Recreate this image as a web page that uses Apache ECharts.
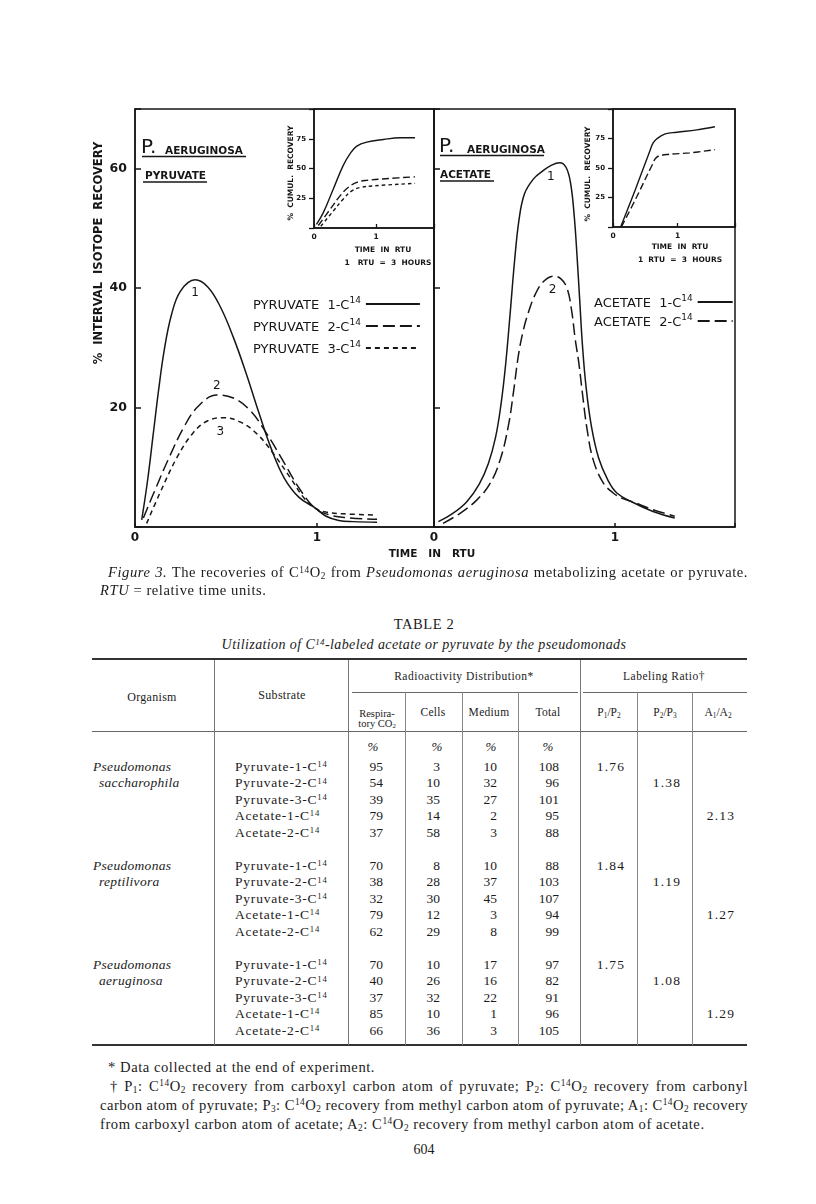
<!DOCTYPE html>
<html>
<head>
<meta charset="utf-8">
<script src="https://cdn.jsdelivr.net/npm/echarts@6.0.0/dist/echarts.min.js"></script>
<style>
html,body{margin:0;padding:0;background:#fff;}
body{width:816px;height:1204px;position:relative;overflow:hidden;color:#1b1b1b;font-family:"Liberation Serif","Times New Roman",serif;}
#chart{position:absolute;left:0;top:0;width:816px;height:570px;}
.t{position:absolute;white-space:nowrap;}
.sup{font-size:0.64em;position:relative;top:-0.45em;line-height:0;}
.sub{font-size:0.64em;position:relative;top:0.22em;line-height:0;}
.ln{position:absolute;background:#555;}
</style>
</head>
<body>
<div id="chart"></div>
<div id="page"></div>
<script>
// ---------- Figure data (x in RTU, y in %) ----------
const pyruvate1 = [[0.037,1.2],[0.07,8],[0.10,15.5],[0.13,23],[0.16,29.5],[0.2,35.5],[0.25,39.5],[0.33,41.4],[0.4,40.2],[0.47,36.8],[0.54,31.8],[0.61,25.8],[0.68,19.2],[0.75,13],[0.82,8.2],[0.9,5.0],[0.99,3.2],[1.05,1.8],[1.12,1.1],[1.2,0.9],[1.33,0.8]];
const pyruvate2 = [[0.046,1.5],[0.11,6.2],[0.19,11.8],[0.27,16.8],[0.35,20.3],[0.45,22.1],[0.54,21.6],[0.63,19.6],[0.72,15.8],[0.815,11],[0.9,6.6],[0.99,3.1],[1.06,2.1],[1.15,1.6],[1.33,1.3]];
const pyruvate3 = [[0.064,0.6],[0.137,5.7],[0.23,11.6],[0.32,15.8],[0.40,17.8],[0.485,18.3],[0.577,17.6],[0.67,15.6],[0.76,12.3],[0.85,8.4],[0.93,4.8],[0.99,3.1],[1.05,2.5],[1.15,2.2],[1.33,2.0]];
const acetate1 = [[0.024,0.9],[0.1,2.2],[0.18,4.2],[0.25,7.2],[0.3,10.6],[0.34,15],[0.37,20.5],[0.395,27],[0.42,35.5],[0.445,44.5],[0.47,51.5],[0.5,55.8],[0.55,58.3],[0.6,59.6],[0.65,60.6],[0.695,61],[0.73,60.2],[0.755,57.5],[0.775,52],[0.79,45.5],[0.805,38],[0.82,30.5],[0.84,23.5],[0.87,16.8],[0.91,11.5],[0.96,7.9],[1.01,5.7],[1.1,4.1],[1.21,2.6],[1.33,1.5]];
const acetate2 = [[0.05,0.6],[0.144,2.3],[0.236,4.5],[0.31,7.3],[0.365,11.2],[0.41,16.8],[0.44,22.8],[0.465,28.5],[0.49,32.5],[0.52,35.8],[0.56,39],[0.605,41.1],[0.66,42],[0.7,41.6],[0.735,40],[0.76,36.3],[0.78,31.5],[0.80,27.5],[0.82,22.4],[0.845,16.5],[0.88,11.2],[0.935,7.4],[0.99,5.7],[1.04,4.8],[1.1,4.2],[1.2,3.0],[1.33,1.8]];
// insets: cumulative recovery
const cumPyruvate1 = [[0.04,3],[0.15,12.9],[0.31,32.6],[0.47,52.4],[0.58,62.3],[0.69,68.8],[0.85,72.2],[1.12,74.4],[1.39,75.8],[1.63,75.8]];
const cumPyruvate2 = [[0.07,2.1],[0.26,15.7],[0.42,27],[0.55,34],[0.69,38.3],[0.85,40],[1.23,41.7],[1.63,43]];
const cumPyruvate3 = [[0.11,1.5],[0.31,14.2],[0.47,24.2],[0.61,31.2],[0.74,34],[0.96,35.4],[1.63,37.5]];
const cumAcetate1 = [[0.12,0.3],[0.35,32.3],[0.57,64.2],[0.62,71],[0.68,74.8],[0.81,78.9],[0.99,80.3],[1.3,82.3],[1.58,85]];
const cumAcetate2 = [[0.13,0],[0.37,25.8],[0.6,51.7],[0.68,59.2],[0.83,61.4],[1.19,62.8],[1.58,65.6]];

const pyruvateNames = ['PYRUVATE  1-C14','PYRUVATE  2-C14','PYRUVATE  3-C14'];
const acetateNames = ['ACETATE  1-C14','ACETATE  2-C14'];
const mainYTicks = [20,40,60];
const insetYTicks = [25,50,75];

// ---------- Table data ----------
const organisms = [['Pseudomonas','saccharophila'],['Pseudomonas','reptilivora'],['Pseudomonas','aeruginosa']];
const substrates = ['Pyruvate-1-C','Pyruvate-2-C','Pyruvate-3-C','Acetate-1-C','Acetate-2-C'];
const respiratoryCO2 = [[95,54,39,79,37],[70,38,32,79,62],[70,40,37,85,66]];
const cells = [[3,10,35,14,58],[8,28,30,12,29],[10,26,32,10,36]];
const medium = [[10,32,27,2,3],[10,37,45,3,8],[17,16,22,1,3]];
const total = [[108,96,101,95,88],[88,103,107,94,99],[97,82,91,96,105]];
const ratioP1P2 = ['1.76','1.84','1.75'];
const ratioP2P3 = ['1.38','1.19','1.08'];
const ratioA1A2 = ['2.13','1.27','1.29'];

// ---------- Chart ----------
const BLACK = '#161616';
const SANS = '"DejaVu Sans","Liberation Sans",sans-serif';
const LONG = [12,5], SHORT = [5,4], ILONG = [7,3.5], ISHORT = [3.5,3];

function lineSeries(name, data, idx, dash, w){
  return {name, type:'line', xAxisIndex:idx, yAxisIndex:idx, data,
    showSymbol:false, symbol:'none', smooth:0.4,
    lineStyle:{color:BLACK, width:w||1.5, type:dash||'solid'},
    itemStyle:{color:BLACK}, silent:true, z:3};
}
function peak(txt, off){
  return {symbol:'circle', symbolSize:0, silent:true,
    itemStyle:{color:'rgba(0,0,0,0)'},
    label:{show:true, position:'inside', formatter:txt, offset:off, color:BLACK, fontFamily:SANS, fontSize:12},
    data:[{type:'max', valueDim:'y'}]};
}
const intOnly = (allowed) => (v) => allowed.indexOf(v) >= 0 ? String(v) : '';

function mainGrid(left, width){
  return {left, top:109, width, height:418, show:true, borderColor:BLACK, borderWidth:1.5, backgroundColor:'rgba(0,0,0,0)'};
}
function insetGrid(left, width, height){
  return {left, top:109, width, height, show:true, borderColor:BLACK, borderWidth:1.5, backgroundColor:'rgba(0,0,0,0)'};
}
function xMain(idx, max){
  return {type:'value', gridIndex:idx, min:0, max, interval:1,
    axisLine:{show:true, onZero:false, lineStyle:{color:BLACK, width:1.5}},
    axisTick:{show:true, inside:true, length:4, lineStyle:{color:BLACK, width:1.5}},
    axisLabel:{show:true, margin:5, formatter:intOnly([0,1]), color:BLACK, fontFamily:SANS, fontWeight:'bold', fontSize:12},
    splitLine:{show:false}};
}
function yMain(idx, showLabels){
  return {type:'value', gridIndex:idx, min:0, max:70, interval:20,
    axisLine:{show:true, onZero:false, lineStyle:{color:BLACK, width:1.5}},
    axisTick:{show:true, inside:true, length:6, lineStyle:{color:BLACK, width:1.5}},
    axisLabel:{show:showLabels, margin:8, formatter:intOnly(mainYTicks), color:BLACK, fontFamily:SANS, fontWeight:'bold', fontSize:12.5},
    splitLine:{show:false}};
}
function xInset(idx, max){
  return {type:'value', gridIndex:idx, min:0, max, interval:1,
    axisLine:{show:true, onZero:false, lineStyle:{color:BLACK, width:1.5}},
    axisTick:{show:true, inside:true, length:4, lineStyle:{color:BLACK, width:1.3}},
    axisLabel:{show:true, margin:5, formatter:intOnly([0,1]), color:BLACK, fontFamily:SANS, fontWeight:'bold', fontSize:7.5},
    splitLine:{show:false}};
}
function yInset(idx){
  return {type:'value', gridIndex:idx, min:0, max:100, interval:25,
    axisLine:{show:true, onZero:false, lineStyle:{color:BLACK, width:1.5}},
    axisTick:{show:true, inside:false, length:5, lineStyle:{color:BLACK, width:1.3}},
    axisLabel:{show:true, margin:8, formatter:intOnly(insetYTicks), color:BLACK, fontFamily:SANS, fontWeight:'bold', fontSize:7},
    splitLine:{show:false}};
}

function legendCfg(names, left, top, itemWidth, gap){
  return {data:names, orient:'vertical', left, top, padding:0, align:'right', itemWidth, itemHeight:10, itemGap:gap,
    selectedMode:false,
    itemStyle:{color:'rgba(0,0,0,0)', borderColor:'rgba(0,0,0,0)', borderWidth:0, opacity:0},
    formatter: (n) => '{t|' + n.replace(/14$/,'') + '}{s|14}',
    textStyle:{color:BLACK, rich:{
      t:{fontFamily:SANS, fontSize:13, color:BLACK, lineHeight:16, verticalAlign:'bottom'},
      s:{fontFamily:SANS, fontSize:9, color:BLACK, lineHeight:8, verticalAlign:'top'}
    }}};
}

function txt(text, x, y, font, opts){
  opts = opts || {};
  return {type:'text', x, y, rotation:opts.rot||0, silent:true,
    style:{text, font, fill:BLACK, textAlign:opts.align||'left', textVerticalAlign:'middle'}};
}
function seg(x1,y1,x2,y2,w){
  return {type:'line', silent:true, shape:{x1,y1,x2,y2}, style:{stroke:BLACK, lineWidth:w||1.3}};
}
const B = (s) => 'bold ' + s + 'px ' + SANS;

const option = {
  animation:false,
  backgroundColor:'#fff',
  grid:[ mainGrid(135,299), mainGrid(434,301), insetGrid(314,120,119), insetGrid(613,122,118) ],
  xAxis:[ xMain(0, 299/182), xMain(1, 301/181), xInset(2, 120/62), xInset(3, 122/64.5) ],
  yAxis:[ yMain(0, true), yMain(1, false), yInset(2), yInset(3) ],
  legend:[ legendCfg(pyruvateNames, 253, 296, 54, 6), legendCfg(acetateNames, 594, 294, 35, 3) ],
  series:[
    Object.assign(lineSeries(pyruvateNames[0], pyruvate1, 0, 'solid'), {markPoint:peak('1',[0,13])}),
    Object.assign(lineSeries(pyruvateNames[1], pyruvate2, 0, LONG), {markPoint:peak('2',[0,-9])}),
    Object.assign(lineSeries(pyruvateNames[2], pyruvate3, 0, SHORT), {markPoint:peak('3',[-3,14])}),
    Object.assign(lineSeries(acetateNames[0], acetate1, 1, 'solid'), {markPoint:peak('1',[-9,14])}),
    Object.assign(lineSeries(acetateNames[1], acetate2, 1, LONG), {markPoint:peak('2',[-1,14])}),
    lineSeries('cum pyruvate 1', cumPyruvate1, 2, 'solid', 1.4),
    lineSeries('cum pyruvate 2', cumPyruvate2, 2, ILONG, 1.4),
    lineSeries('cum pyruvate 3', cumPyruvate3, 2, ISHORT, 1.4),
    lineSeries('cum acetate 1', cumAcetate1, 3, 'solid', 1.4),
    lineSeries('cum acetate 2', cumAcetate2, 3, ILONG, 1.4)
  ],
  graphic:[
    // panel titles
    txt('P.', 141, 148, '20px ' + SANS),
    txt('AERUGINOSA', 165, 151, B(10.5)),
    seg(142,156.5,246,156.5,1.4),
    txt('PYRUVATE', 145, 176, B(10.5)),
    seg(143,182,207,182,1.4),
    txt('P.', 439, 147, '20px ' + SANS),
    txt('AERUGINOSA', 467, 150, B(10.5)),
    seg(440,155.5,544,155.5,1.4),
    txt('ACETATE', 440, 175, B(10.5)),
    seg(440,181,494,181,1.4),
    // main axis names
    txt('%  INTERVAL  ISOTOPE  RECOVERY', 99, 253, B(11.5), {rot:Math.PI/2, align:'center'}),
    txt('TIME   IN   RTU', 432, 554, B(10.5), {align:'center'}),
    // inset axis names
    txt('%  CUMUL.  RECOVERY', 291, 173, B(7.5), {rot:Math.PI/2, align:'center'}),
    txt('TIME  IN  RTU', 383, 250, B(7.5), {align:'center'}),
    txt('1   RTU  =  3  HOURS', 388, 263, B(7.5), {align:'center'}),
    txt('%  CUMUL.  RECOVERY', 588, 174, B(7.5), {rot:Math.PI/2, align:'center'}),
    txt('TIME  IN  RTU', 680, 247, B(7.5), {align:'center'}),
    txt('1  RTU  =  3  HOURS', 680, 260, B(7.5), {align:'center'})
  ]
};
const chart = echarts.init(document.getElementById('chart'), null, {renderer:'canvas'});
chart.setOption(option);

// ---------- Caption, table, footnotes (HTML text) ----------
const page = document.getElementById('page');
function put(html, x, y, o){
  o = o || {};
  const lh = o.lh || 16;
  const d = document.createElement('div');
  d.className = 't';
  d.innerHTML = html;
  d.style.fontSize = (o.size || 13) + 'px';
  d.style.lineHeight = lh + 'px';
  d.style.top = (y - lh/2) + 'px';
  if (o.italic) d.style.fontStyle = 'italic';
  if (o.ls) d.style.letterSpacing = o.ls + 'px';
  const a = o.align || 'left';
  if (a === 'left') d.style.left = x + 'px';
  else if (a === 'right') d.style.right = (816 - x) + 'px';
  else { d.style.left = x + 'px'; d.style.transform = 'translateX(-50%)'; }
  page.appendChild(d);
  return d;
}
// one justified line: measure natural width, then spread words to fill width
function just(html, x, width, y, size, lh, ls){
  const d = put(html, x, y, {size, lh, ls});
  const nat = d.getBoundingClientRect().width;
  const spaces = (d.textContent.match(/ /g) || []).length;
  if (nat > width) {
    const chars = d.textContent.length;
    d.style.letterSpacing = (ls - (nat - width) / chars) + 'px';
  } else if (spaces > 0) {
    d.style.wordSpacing = ((width - nat) / spaces) + 'px';
  }
}
function hl(x1, x2, y, w, c){
  const d = document.createElement('div'); d.className = 'ln';
  d.style.left = x1 + 'px'; d.style.width = (x2 - x1) + 'px';
  d.style.top = (y - w/2) + 'px'; d.style.height = w + 'px';
  if (c) d.style.background = c;
  page.appendChild(d);
}
function vl(x, y1, y2, w, c){
  const d = document.createElement('div'); d.className = 'ln';
  d.style.left = (x - w/2) + 'px'; d.style.width = w + 'px';
  d.style.top = y1 + 'px'; d.style.height = (y2 - y1) + 'px';
  if (c) d.style.background = c;
  page.appendChild(d);
}
const C14O2 = 'C<span class="sup">14</span>O<span class="sub">2</span>';
const sub = (s) => '<span class="sub">' + s + '</span>';
const BODY = 14.6, BLS = 0.55;

// caption
just('<i>Figure 3.</i> The recoveries of ' + C14O2 + ' from <i>Pseudomonas aeruginosa</i> metabolizing acetate or pyruvate.', 108, 640, 572, BODY, 18, BLS);
put('<i>RTU</i> = relative time units.', 100, 590, {size:BODY, lh:18, ls:BLS});

// table titles
put('TABLE 2', 424, 624, {size:14.5, align:'center', ls:0.6});
put('Utilization of C<span class="sup">14</span>-labeled acetate or pyruvate by the pseudomonads', 424, 645, {size:14, align:'center', italic:true, ls:0.4});

// rules
hl(92, 747, 659, 2, '#333');
hl(352, 578, 692, 1, '#666');
hl(583, 747, 692, 1, '#666');
hl(92, 747, 731, 1, '#666');
hl(92, 747, 1045, 1.6, '#333');
[214, 348, 580].forEach(x => vl(x, 660, 1045, 1, '#777'));
[405, 462, 518, 637, 692].forEach(x => vl(x, 692, 1045, 1, '#888'));

// headers
const HS = 11.5;
put('Organism', 152, 697, {size:12, align:'center', ls:0.3});
put('Substrate', 282, 695, {size:12, align:'center', ls:0.3});
put('Radioactivity Distribution*', 464, 676, {size:HS, align:'center', ls:0.5});
put('Labeling Ratio†', 664, 676, {size:HS, align:'center', ls:0.5});
put('Respira-', 377, 714, {size:10.5, align:'center', lh:10});
put('tory CO' + sub('2'), 377, 724, {size:10.5, align:'center', lh:10});
put('Cells', 433, 712, {size:HS, align:'center', ls:0.3});
put('Medium', 489, 712, {size:HS, align:'center', ls:0.3});
put('Total', 548, 712, {size:HS, align:'center', ls:0.3});
put('P' + sub('1') + '/P' + sub('2'), 609, 712, {size:HS, align:'center'});
put('P' + sub('2') + '/P' + sub('3'), 665, 712, {size:HS, align:'center'});
put('A' + sub('1') + '/A' + sub('2'), 718, 712, {size:HS, align:'center'});

// percent row
[373, 437, 491, 548].forEach(x => put('%', x, 747, {size:13, align:'center', italic:true}));

// data rows
const ROW0 = 767, ROWH = 16.45, GROUPH = 99;
organisms.forEach((org, g) => {
  const gy = ROW0 + g * GROUPH;
  put(org[0], 93, gy, {size:13.5, italic:true, ls:0.3});
  put(org[1], 99, gy + ROWH, {size:13.5, italic:true, ls:0.3});
  substrates.forEach((s, r) => {
    const y = gy + r * ROWH;
    put(s + '<span class="sup">14</span>', 235, y, {size:13.5, ls:0.8});
    put(String(respiratoryCO2[g][r]), 383, y, {size:13.5, align:'right'});
    put(String(cells[g][r]), 440, y, {size:13.5, align:'right'});
    put(String(medium[g][r]), 497, y, {size:13.5, align:'right'});
    put(String(total[g][r]), 559, y, {size:13.5, align:'right'});
  });
  put(ratioP1P2[g], 611, gy, {size:13.5, align:'center', ls:1.2});
  put(ratioP2P3[g], 667, gy + ROWH, {size:13.5, align:'center', ls:1.2});
  put(ratioA1A2[g], 721, gy + 3 * ROWH, {size:13.5, align:'center', ls:1.2});
});

// footnotes
put('* Data collected at the end of experiment.', 108, 1067, {size:BODY, lh:19, ls:BLS});
just('† P' + sub('1') + ': ' + C14O2 + ' recovery from carboxyl carbon atom of pyruvate; P' + sub('2') + ': ' + C14O2 + ' recovery from carbonyl', 110, 638, 1086, BODY, 19, BLS);
just('carbon atom of pyruvate; P' + sub('3') + ': ' + C14O2 + ' recovery from methyl carbon atom of pyruvate; A' + sub('1') + ': ' + C14O2 + ' recovery', 100, 648, 1105, BODY, 19, BLS);
put('from carboxyl carbon atom of acetate; A' + sub('2') + ': ' + C14O2 + ' recovery from methyl carbon atom of acetate.', 100, 1124, {size:BODY, lh:19, ls:BLS});
put('604', 424, 1150, {size:14, align:'center'});
</script>
</body>
</html>
